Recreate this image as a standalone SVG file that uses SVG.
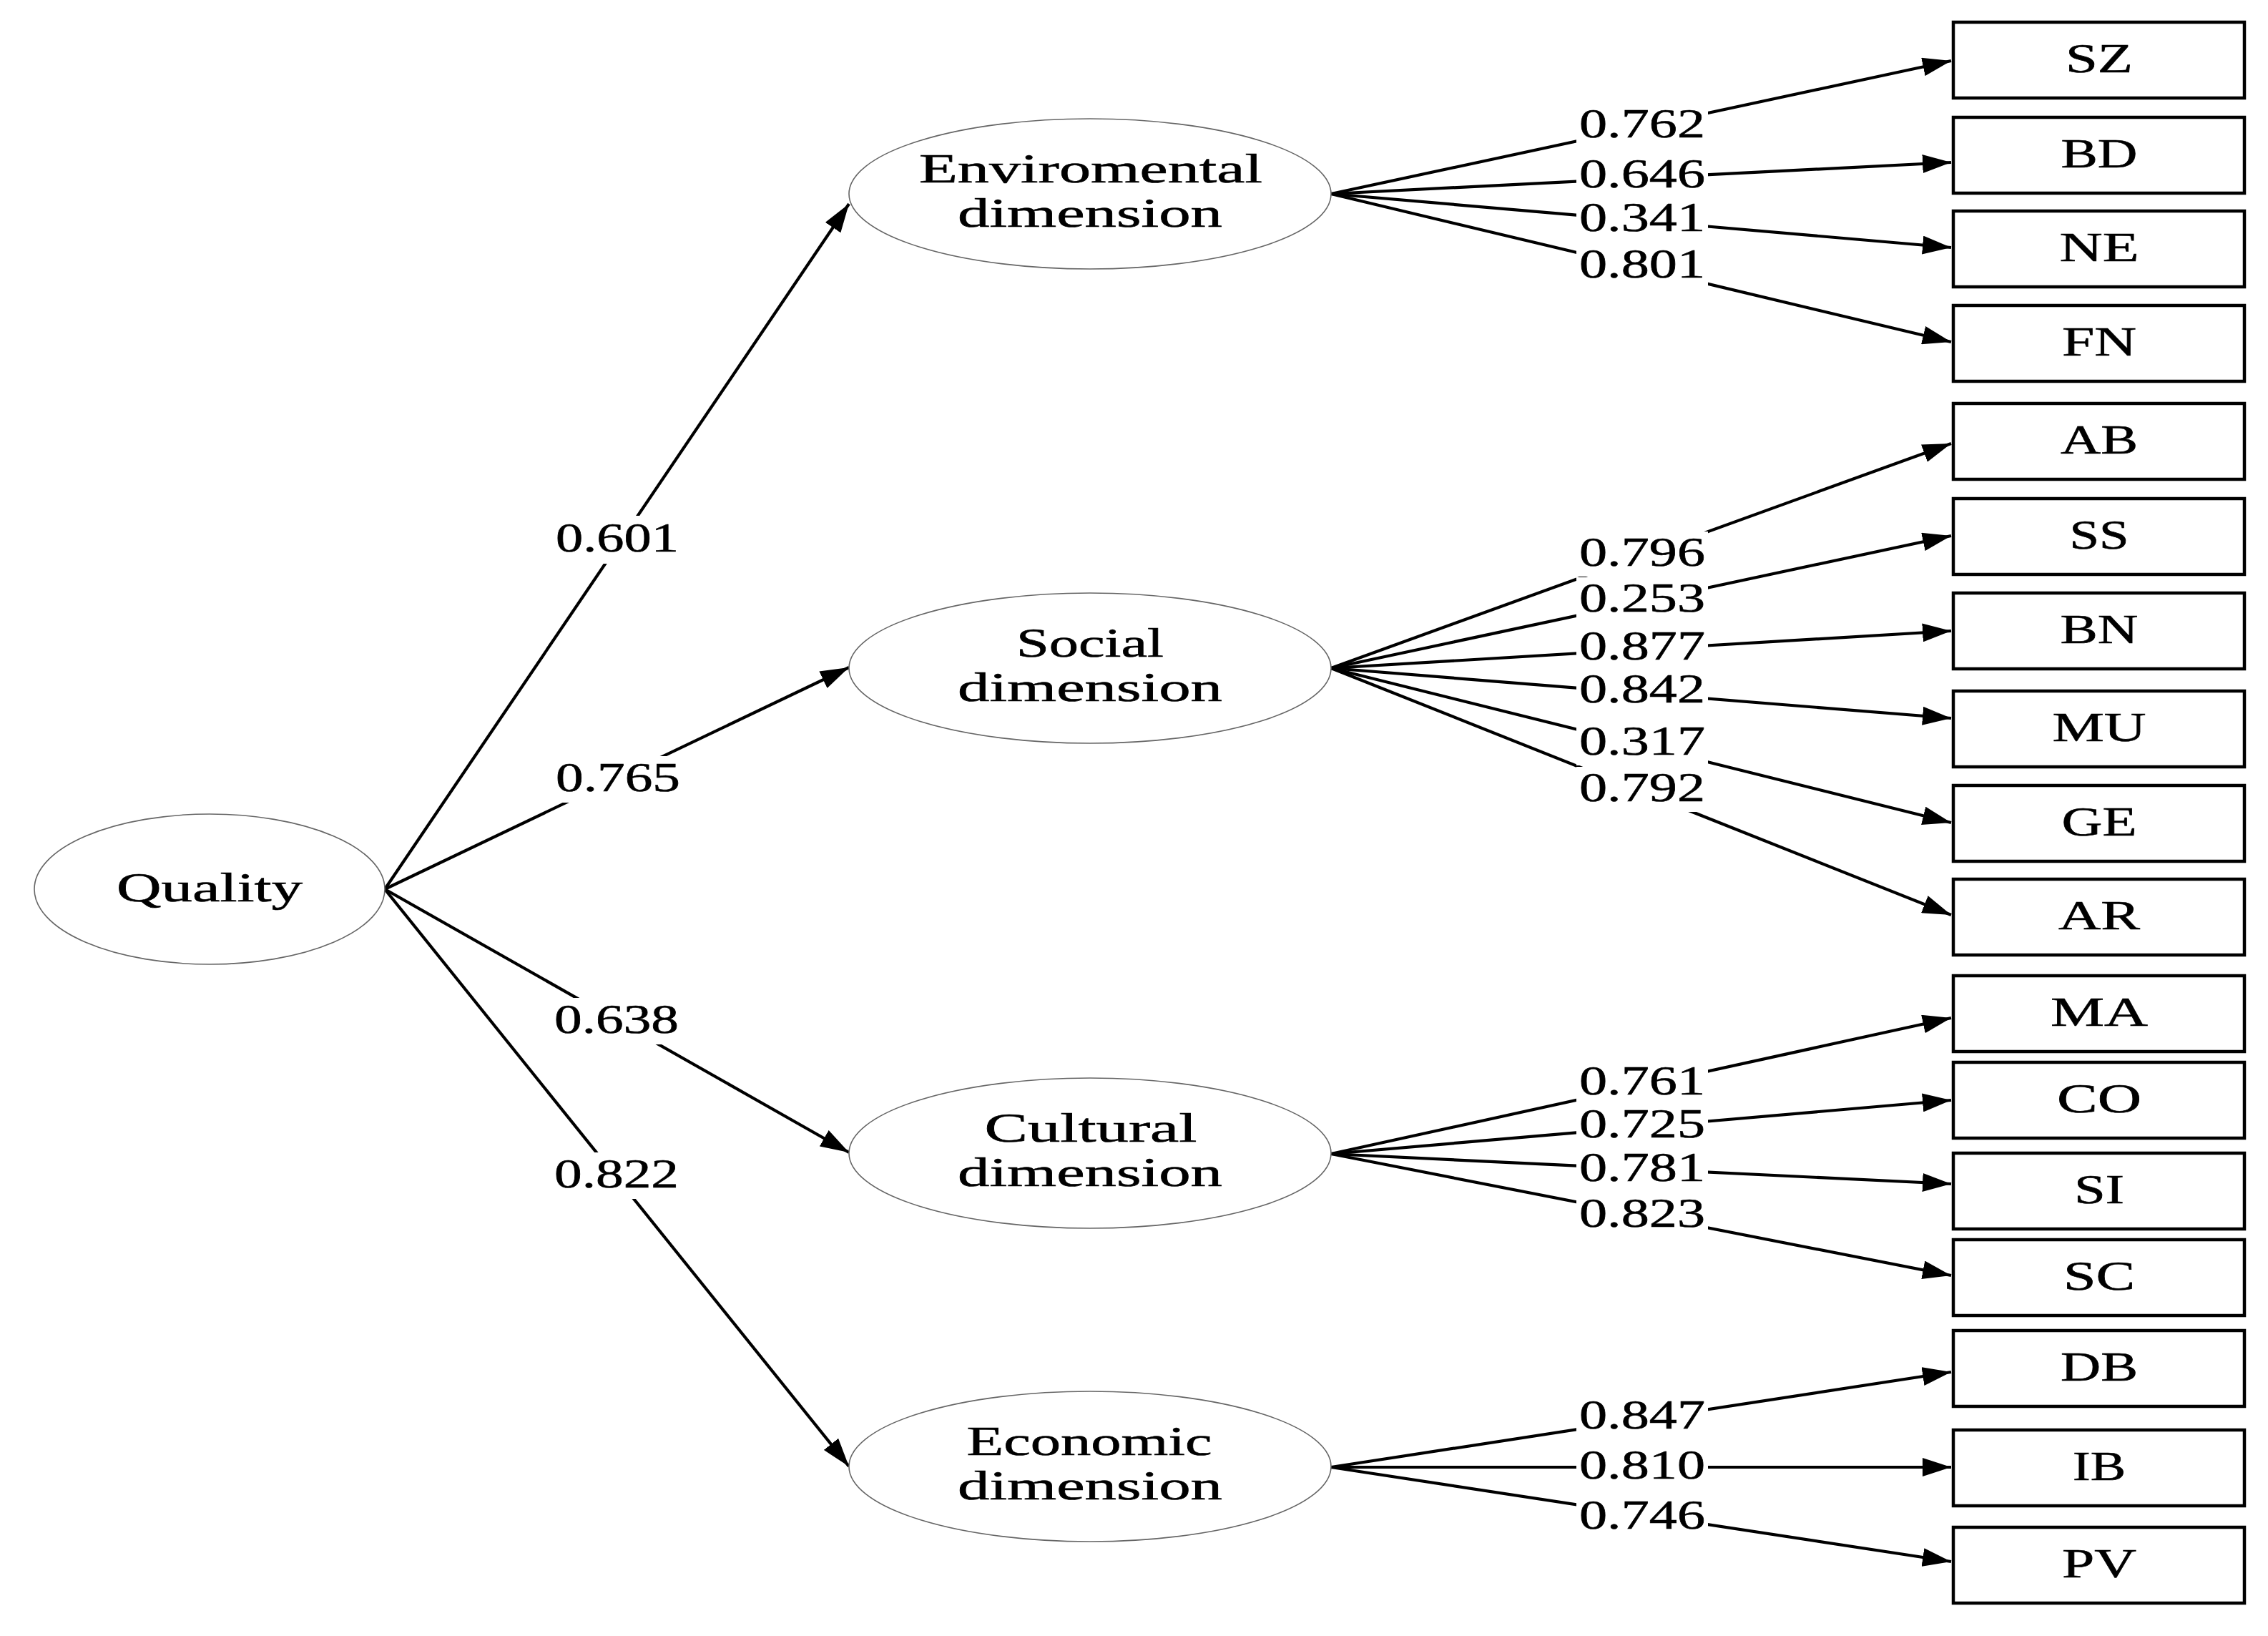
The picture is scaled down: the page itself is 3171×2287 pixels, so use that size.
<svg xmlns="http://www.w3.org/2000/svg" width="3171" height="2287" viewBox="0 0 3171 2287">
<style>
text{font-family:"Liberation Serif","Times New Roman",serif;font-size:56px;fill:#000;stroke:#000;stroke-width:0.6;text-anchor:middle}
.ell{fill:#fff;stroke:#666;stroke-width:1.6}
.box{fill:#fff;stroke:#000;stroke-width:4.5}
.edge{stroke:#000;stroke-width:4.2;fill:none;marker-end:url(#arr)}
.bg{fill:#fff}
</style>
<defs>
<marker id="arr" markerUnits="userSpaceOnUse" viewBox="0 0 40 26" markerWidth="40" markerHeight="26" refX="40" refY="13" orient="auto"><path d="M0,0 L40,13 L0,26 z" fill="#000"/></marker>
</defs>
<rect width="3171" height="2287" fill="#fff"/>
<g id="connectors">
<line class="edge" x1="538" y1="1243" x2="1187" y2="285"/>
<line class="edge" x1="538" y1="1243" x2="1187" y2="933"/>
<line class="edge" x1="538" y1="1243" x2="1187" y2="1611"/>
<line class="edge" x1="538" y1="1243" x2="1187" y2="2050"/>
<line class="edge" x1="1861" y1="271" x2="2728" y2="85"/>
<line class="edge" x1="1861" y1="271" x2="2728" y2="227"/>
<line class="edge" x1="1861" y1="271" x2="2728" y2="346"/>
<line class="edge" x1="1861" y1="271" x2="2728" y2="478"/>
<line class="edge" x1="1861" y1="934" x2="2728" y2="620"/>
<line class="edge" x1="1861" y1="934" x2="2728" y2="749"/>
<line class="edge" x1="1861" y1="934" x2="2728" y2="882"/>
<line class="edge" x1="1861" y1="934" x2="2728" y2="1004"/>
<line class="edge" x1="1861" y1="934" x2="2728" y2="1150"/>
<line class="edge" x1="1861" y1="934" x2="2728" y2="1279"/>
<line class="edge" x1="1861" y1="1613" x2="2728" y2="1423"/>
<line class="edge" x1="1861" y1="1613" x2="2728" y2="1538"/>
<line class="edge" x1="1861" y1="1613" x2="2728" y2="1655"/>
<line class="edge" x1="1861" y1="1613" x2="2728" y2="1783"/>
<line class="edge" x1="1861" y1="2051" x2="2728" y2="1918"/>
<line class="edge" x1="1861" y1="2051" x2="2728" y2="2051"/>
<line class="edge" x1="1861" y1="2051" x2="2728" y2="2183"/>
<g id="edge-labels">
<rect class="bg" x="773" y="721" width="180" height="67"/><text x="863" y="771" textLength="172" lengthAdjust="spacingAndGlyphs">0.601</text>
<rect class="bg" x="773" y="1057" width="182" height="65"/><text x="864" y="1106" textLength="174" lengthAdjust="spacingAndGlyphs">0.765</text>
<rect class="bg" x="772" y="1395" width="182" height="65"/><text x="862" y="1444" textLength="174" lengthAdjust="spacingAndGlyphs">0.638</text>
<rect class="bg" x="772" y="1611" width="182" height="65"/><text x="862" y="1660" textLength="174" lengthAdjust="spacingAndGlyphs">0.822</text>
<rect class="bg" x="2204" y="144" width="184" height="63"/><text x="2296" y="192" textLength="176" lengthAdjust="spacingAndGlyphs">0.762</text>
<rect class="bg" x="2204" y="214" width="184" height="63"/><text x="2296" y="262" textLength="176" lengthAdjust="spacingAndGlyphs">0.646</text>
<rect class="bg" x="2204" y="275" width="184" height="63"/><text x="2296" y="323" textLength="176" lengthAdjust="spacingAndGlyphs">0.341</text>
<rect class="bg" x="2204" y="340" width="184" height="63"/><text x="2296" y="388" textLength="176" lengthAdjust="spacingAndGlyphs">0.801</text>
<rect class="bg" x="2204" y="743" width="184" height="63"/><text x="2296" y="791" textLength="176" lengthAdjust="spacingAndGlyphs">0.796</text>
<rect class="bg" x="2204" y="807" width="184" height="63"/><text x="2296" y="855" textLength="176" lengthAdjust="spacingAndGlyphs">0.253</text>
<rect class="bg" x="2204" y="874" width="184" height="60"/><text x="2296" y="922" textLength="176" lengthAdjust="spacingAndGlyphs">0.877</text>
<rect class="bg" x="2204" y="934" width="184" height="63"/><text x="2296" y="982" textLength="176" lengthAdjust="spacingAndGlyphs">0.842</text>
<rect class="bg" x="2204" y="1007" width="184" height="63"/><text x="2296" y="1055" textLength="176" lengthAdjust="spacingAndGlyphs">0.317</text>
<rect class="bg" x="2204" y="1072" width="184" height="63"/><text x="2296" y="1120" textLength="176" lengthAdjust="spacingAndGlyphs">0.792</text>
<rect class="bg" x="2204" y="1482" width="184" height="63"/><text x="2296" y="1530" textLength="176" lengthAdjust="spacingAndGlyphs">0.761</text>
<rect class="bg" x="2204" y="1545" width="184" height="60"/><text x="2296" y="1590" textLength="176" lengthAdjust="spacingAndGlyphs">0.725</text>
<rect class="bg" x="2204" y="1605" width="184" height="61"/><text x="2296" y="1651" textLength="176" lengthAdjust="spacingAndGlyphs">0.781</text>
<rect class="bg" x="2204" y="1667" width="184" height="63"/><text x="2296" y="1715" textLength="176" lengthAdjust="spacingAndGlyphs">0.823</text>
<rect class="bg" x="2204" y="1949" width="184" height="63"/><text x="2296" y="1997" textLength="176" lengthAdjust="spacingAndGlyphs">0.847</text>
<rect class="bg" x="2204" y="2019" width="184" height="63"/><text x="2296" y="2067" textLength="176" lengthAdjust="spacingAndGlyphs">0.810</text>
<rect class="bg" x="2204" y="2089" width="184" height="63"/><text x="2296" y="2137" textLength="176" lengthAdjust="spacingAndGlyphs">0.746</text>
</g>
</g>
<g id="quality"><ellipse class="ell" cx="293" cy="1243" rx="245" ry="105"/><text x="293" y="1260" textLength="260" lengthAdjust="spacingAndGlyphs">Quality</text></g>
<g id="environmental"><ellipse class="ell" cx="1524" cy="271" rx="337" ry="105"/><text x="1525" y="255" textLength="480" lengthAdjust="spacingAndGlyphs">Enviromental</text><text x="1524" y="317" textLength="370" lengthAdjust="spacingAndGlyphs">dimension</text></g>
<g id="social"><ellipse class="ell" cx="1524" cy="934" rx="337" ry="105"/><text x="1524" y="918" textLength="206" lengthAdjust="spacingAndGlyphs">Social</text><text x="1524" y="980" textLength="370" lengthAdjust="spacingAndGlyphs">dimension</text></g>
<g id="cultural"><ellipse class="ell" cx="1524" cy="1612" rx="337" ry="105"/><text x="1525" y="1596" textLength="297" lengthAdjust="spacingAndGlyphs">Cultural</text><text x="1524" y="1658" textLength="370" lengthAdjust="spacingAndGlyphs">dimension</text></g>
<g id="economic"><ellipse class="ell" cx="1524" cy="2050" rx="337" ry="105"/><text x="1523" y="2034" textLength="343" lengthAdjust="spacingAndGlyphs">Economic</text><text x="1524" y="2096" textLength="370" lengthAdjust="spacingAndGlyphs">dimension</text></g>
<g id="SZ"><rect class="box" x="2731" y="31" width="407" height="106"/><text x="2935" y="101" textLength="94" lengthAdjust="spacingAndGlyphs">SZ</text></g>
<g id="BD"><rect class="box" x="2731" y="164" width="407" height="106"/><text x="2935" y="234" textLength="107" lengthAdjust="spacingAndGlyphs">BD</text></g>
<g id="NE"><rect class="box" x="2731" y="295" width="407" height="106"/><text x="2935" y="365" textLength="111" lengthAdjust="spacingAndGlyphs">NE</text></g>
<g id="FN"><rect class="box" x="2731" y="427" width="407" height="106"/><text x="2935" y="497" textLength="104" lengthAdjust="spacingAndGlyphs">FN</text></g>
<g id="AB"><rect class="box" x="2731" y="564" width="407" height="106"/><text x="2935" y="634" textLength="108" lengthAdjust="spacingAndGlyphs">AB</text></g>
<g id="SS"><rect class="box" x="2731" y="697" width="407" height="106"/><text x="2935" y="767" textLength="83" lengthAdjust="spacingAndGlyphs">SS</text></g>
<g id="BN"><rect class="box" x="2731" y="829" width="407" height="106"/><text x="2935" y="899" textLength="109" lengthAdjust="spacingAndGlyphs">BN</text></g>
<g id="MU"><rect class="box" x="2731" y="966" width="407" height="106"/><text x="2935" y="1036" textLength="131" lengthAdjust="spacingAndGlyphs">MU</text></g>
<g id="GE"><rect class="box" x="2731" y="1098" width="407" height="106"/><text x="2935" y="1168" textLength="105" lengthAdjust="spacingAndGlyphs">GE</text></g>
<g id="AR"><rect class="box" x="2731" y="1229" width="407" height="106"/><text x="2935" y="1299" textLength="114" lengthAdjust="spacingAndGlyphs">AR</text></g>
<g id="MA"><rect class="box" x="2731" y="1364" width="407" height="106"/><text x="2935" y="1434" textLength="136" lengthAdjust="spacingAndGlyphs">MA</text></g>
<g id="CO"><rect class="box" x="2731" y="1485" width="407" height="106"/><text x="2935" y="1555" textLength="118" lengthAdjust="spacingAndGlyphs">CO</text></g>
<g id="SI"><rect class="box" x="2731" y="1612" width="407" height="106"/><text x="2935" y="1682" textLength="70" lengthAdjust="spacingAndGlyphs">SI</text></g>
<g id="SC"><rect class="box" x="2731" y="1733" width="407" height="106"/><text x="2935" y="1803" textLength="100" lengthAdjust="spacingAndGlyphs">SC</text></g>
<g id="DB"><rect class="box" x="2731" y="1860" width="407" height="106"/><text x="2935" y="1930" textLength="108" lengthAdjust="spacingAndGlyphs">DB</text></g>
<g id="IB"><rect class="box" x="2731" y="1999" width="407" height="106"/><text x="2935" y="2069" textLength="74" lengthAdjust="spacingAndGlyphs">IB</text></g>
<g id="PV"><rect class="box" x="2731" y="2135" width="407" height="106"/><text x="2935" y="2205" textLength="104" lengthAdjust="spacingAndGlyphs">PV</text></g>
</svg>
